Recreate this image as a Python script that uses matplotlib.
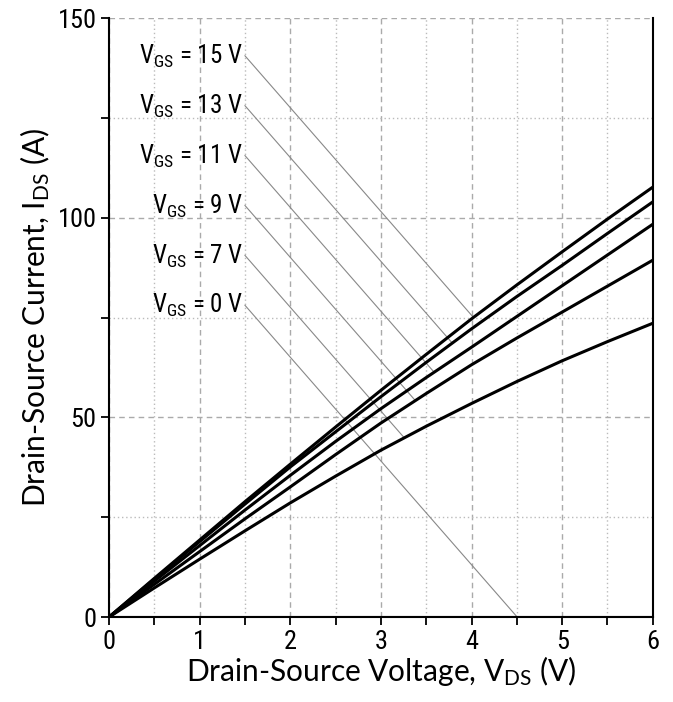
import numpy as np
import matplotlib
matplotlib.use("Agg")
import matplotlib.pyplot as plt
from matplotlib.ticker import MultipleLocator

plt.rcParams['font.family'] = ['Roboto Condensed', 'DejaVu Sans']
plt.rcParams['mathtext.default'] = 'regular'

# output characteristics, I_DS (A) vs V_DS (V), one curve per gate voltage
v_ds = [0, 0.5, 1, 1.5, 2, 2.5, 3, 3.5, 4, 4.5, 5, 5.5, 6]
i_vgs15 = [0, 9.7, 19.3, 28.9, 38.3, 47.6, 56.8, 65.8, 74.7, 83.2, 91.5, 99.7, 107.7]
i_vgs13 = [0, 9.5, 18.9, 28.3, 37.6, 46.4, 55.2, 63.8, 72.2, 80.3, 88.1, 96.1, 104.0]
i_vgs11 = [0, 9.0, 17.9, 26.8, 35.5, 44.0, 52.2, 60.0, 67.6, 75.3, 83.0, 90.7, 98.4]
i_vgs9 = [0, 8.2, 16.4, 24.6, 32.6, 40.7, 48.6, 56.0, 63.2, 69.9, 76.4, 82.9, 89.4]
i_vgs7 = [0, 7.3, 14.5, 21.6, 28.6, 35.3, 41.8, 47.8, 53.5, 59.0, 64.2, 69.0, 73.6]
i_vgs0 = [0] * len(v_ds)

gate_voltages = [15, 13, 11, 9, 7, 0]
currents = [i_vgs15, i_vgs13, i_vgs11, i_vgs9, i_vgs7, i_vgs0]

# label anchors (left end of each leader line) and leader slope in A/V
label_x = 1.5
label_y = [140.6, 128.1, 115.6, 103.1, 90.6, 78.1]
leader_slope = -26.0

fig = plt.figure(figsize=(6.73, 7.02), dpi=100)
ax = fig.add_axes([0.162, 0.121, 0.808, 0.853])

ax.set_xlim(0, 6)
ax.set_ylim(0, 150)
ax.xaxis.set_major_locator(MultipleLocator(1))
ax.xaxis.set_minor_locator(MultipleLocator(0.5))
ax.yaxis.set_major_locator(MultipleLocator(50))
ax.yaxis.set_minor_locator(MultipleLocator(25))

ax.grid(which='major', color='#aaaaaa', linestyle=(0, (4, 3)), linewidth=1.0)
ax.grid(which='minor', color='#bbbbbb', linestyle=(0, (1, 2)), linewidth=1.0)
ax.set_axisbelow(True)

x = np.array(v_ds, dtype=float)
for vgs, cur, ly in zip(gate_voltages, currents, label_y):
    y = np.array(cur, dtype=float)
    ax.plot(x, y, color='black', linewidth=2.2, zorder=3)

    # leader from the label down to where it meets its curve
    lead = ly + leader_slope * (x - label_x)
    diff = lead - y
    k = np.where((diff[:-1] > 0) & (diff[1:] <= 0))[0][-1]
    t = diff[k] / (diff[k] - diff[k + 1])
    xe = x[k] + t * (x[k + 1] - x[k])
    ye = ly + leader_slope * (xe - label_x)
    ax.plot([label_x, xe], [ly, ye], color='#888888', linewidth=0.8, zorder=2)

    ax.text(label_x - 0.02, ly - 2.0, f'V$_{{GS}}$ = {vgs} V', ha='right',
            va='baseline', fontsize=18, color='black')

for side in ['left', 'bottom', 'right']:
    ax.spines[side].set_linewidth(1.5)
ax.spines['top'].set_visible(False)

ax.tick_params(which='both', direction='out', width=1.3, labelsize=19, pad=3)
ax.tick_params(which='major', length=6)
ax.tick_params(which='minor', length=6)

ax.set_xlabel('Drain-Source Voltage, V$_{DS}$ (V)', fontsize=21.5, family='Lato', labelpad=0)
ax.set_ylabel('Drain-Source Current, I$_{DS}$ (A)', fontsize=21.5, family='Lato', labelpad=4)

fig.savefig('out.png', dpi=100)
